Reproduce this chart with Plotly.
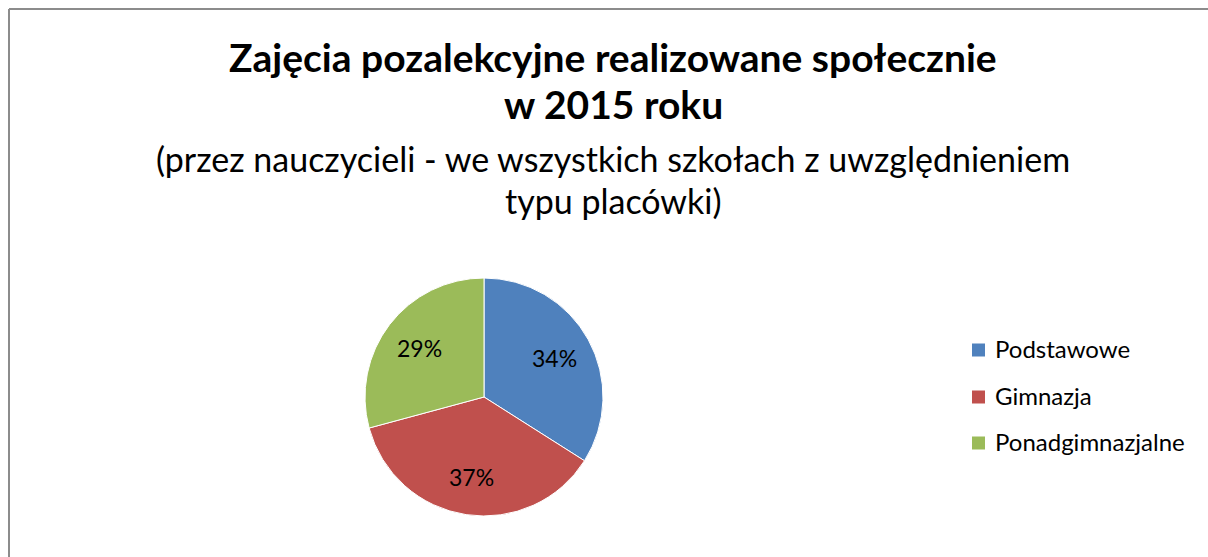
import math
import plotly.graph_objects as go

W, H = 1208, 557

labels = ["Podstawowe", "Gimnazja", "Ponadgimnazjalne"]
values = [34.0, 36.8, 29.2]
colors = ["#4F81BD", "#C0504D", "#9BBB59"]

title_lines = ["Zajęcia pozalekcyjne realizowane społecznie", "w 2015 roku"]
subtitle_lines = ["(przez nauczycieli - we wszystkich szkołach z uwzględnieniem", "typu placówki)"]

FONT = "Lato, Carlito, Calibri, sans-serif"


def px(x):
    return x / W


def py(y):
    return 1 - y / H


cx, cy, r = 484, 397, 119

fig = go.Figure(go.Pie(
    labels=labels,
    values=values,
    marker=dict(colors=colors, line=dict(color="white", width=1)),
    sort=False,
    direction="clockwise",
    rotation=0,
    textinfo="none",
    showlegend=False,
    hoverinfo="label+percent",
    domain=dict(x=[px(cx - r), px(cx + r)], y=[py(cy + r), py(cy - r)]),
))

annotations = []

# slice percentage labels placed at the slice mid-angle (computed from values)
total = sum(values)
acc = 0.0
for v in values:
    mid = (acc + v / 2) / total * 2 * math.pi
    acc += v
    lx = cx + 0.68 * r * math.sin(mid)
    ly = cy - 0.68 * r * math.cos(mid)
    annotations.append(dict(text=f"{round(v / total * 100)}%", x=px(lx), y=py(ly),
                            xref="paper", yref="paper", xanchor="center", yanchor="middle",
                            showarrow=False, font=dict(family=FONT, size=23, color="black")))

for text, y in zip(title_lines, [57, 104]):
    annotations.append(dict(text=f"<b>{text}</b>", x=px(613), y=py(y), xref="paper", yref="paper",
                            xanchor="center", yanchor="middle", showarrow=False,
                            font=dict(family=FONT, size=39, color="black")))
for text, y in zip(subtitle_lines, [159, 200]):
    annotations.append(dict(text=text, x=px(613), y=py(y), xref="paper", yref="paper",
                            xanchor="center", yanchor="middle", showarrow=False,
                            font=dict(family=FONT, size=34, color="black")))

shapes = [
    dict(type="line", xref="paper", yref="paper", x0=px(9), x1=px(9), y0=py(H + 5), y1=py(9),
         line=dict(color="#8C8C8C", width=2)),
    dict(type="line", xref="paper", yref="paper", x0=px(9), x1=px(W + 5), y0=py(9), y1=py(9),
         line=dict(color="#8C8C8C", width=2)),
]

leg_y = [350, 397, 443]
for lab, col, y in zip(labels, colors, leg_y):
    shapes.append(dict(type="rect", xref="paper", yref="paper",
                       x0=px(972), x1=px(985), y0=py(y + 6.5), y1=py(y - 6.5),
                       fillcolor=col, line=dict(width=0)))
    annotations.append(dict(text=lab, x=px(993), y=py(y - 1.5), xref="paper", yref="paper",
                            xanchor="left", yanchor="middle", showarrow=False,
                            font=dict(family=FONT, size=24, color="black")))

fig.update_layout(
    width=W, height=H,
    margin=dict(l=0, r=0, t=0, b=0),
    paper_bgcolor="white",
    plot_bgcolor="white",
    annotations=annotations,
    shapes=shapes,
)

fig.write_html("out.html", config={"displayModeBar": False},
               post_script="document.body.style.margin='0';document.body.style.overflow='hidden';")
